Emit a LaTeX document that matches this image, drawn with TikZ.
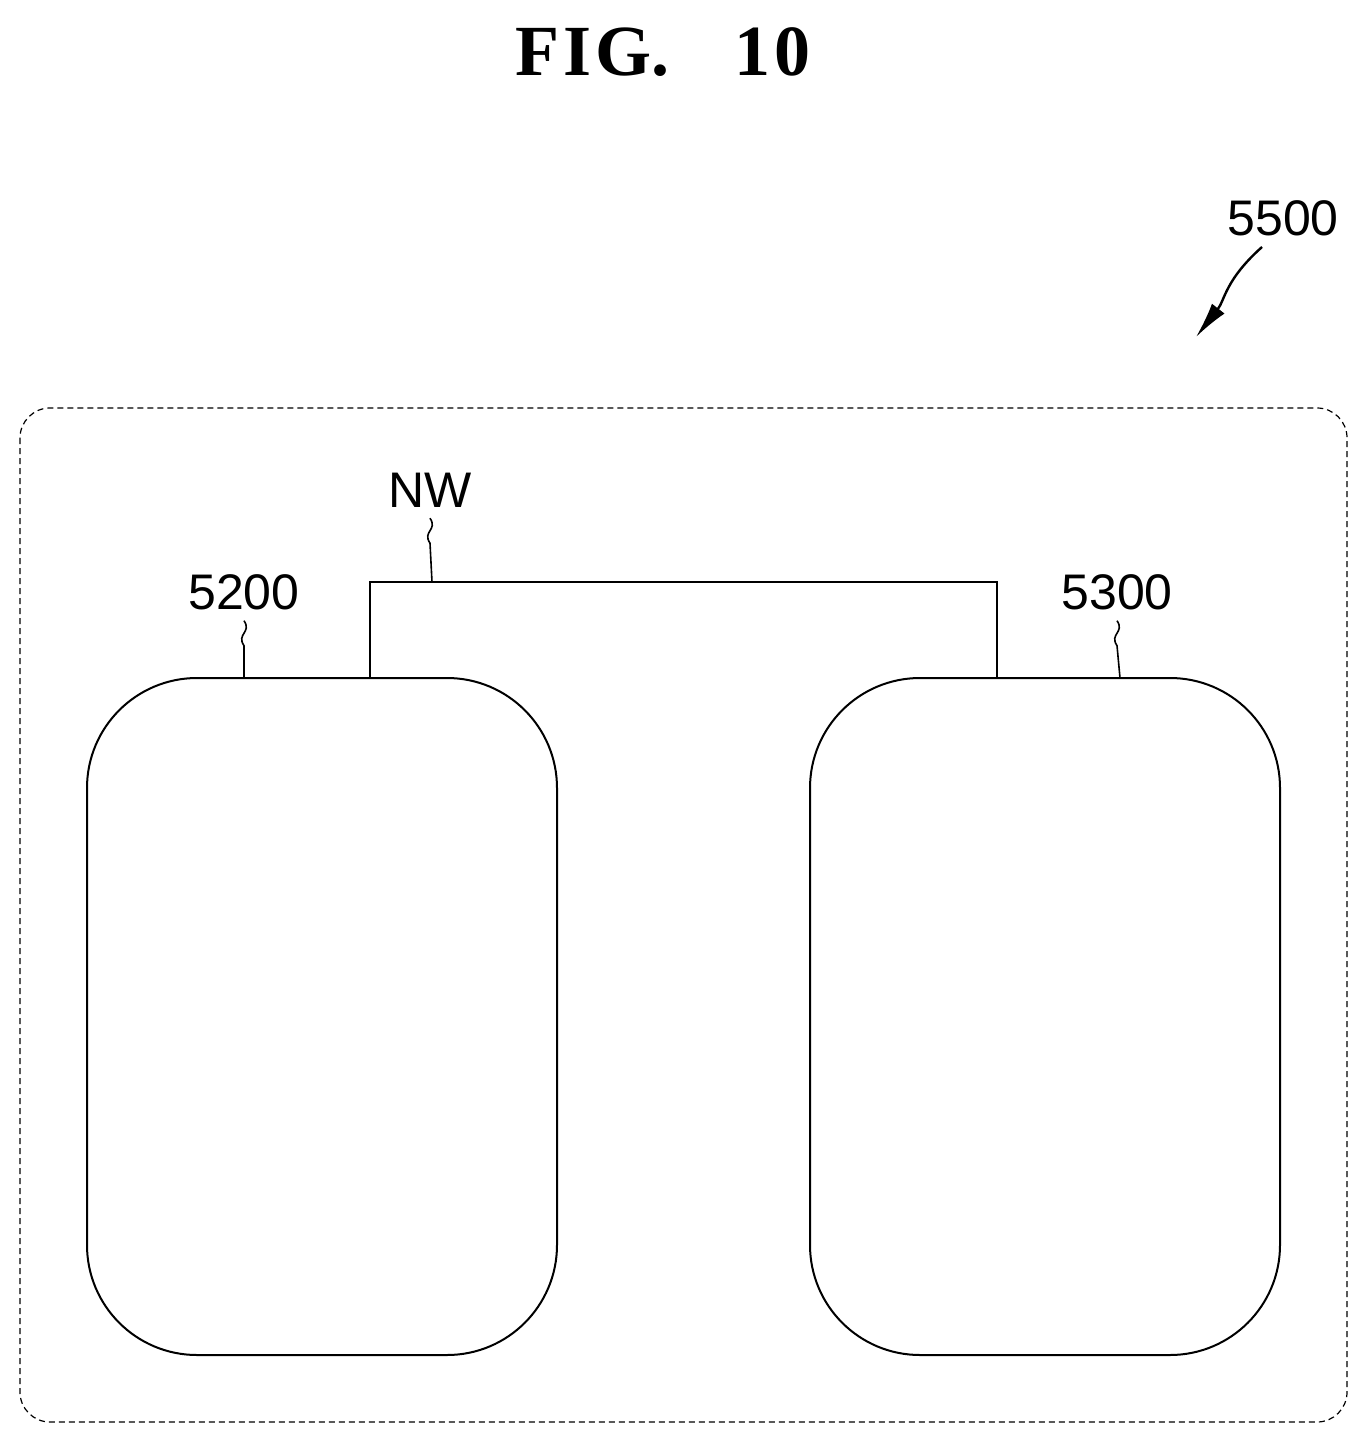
\documentclass[tikz,border=0pt]{standalone}
\usepackage{fontspec}
\setmainfont{Liberation Sans}
\newfontfamily\titlefont{Liberation Serif}
\usetikzlibrary{arrows.meta}
\begin{document}
\begin{tikzpicture}[x=0.5pt, y=-0.5pt, line width=1pt,
	styleLabel/.style={font=\fontsize{25}{30}\selectfont, inner sep=0pt},
	styleUnit/.style={draw, rounded corners=55pt},
	styleLeader/.style={line width=0.8pt}]

	\useasboundingbox (0,0) rectangle (1367,1443);

	%タイトル
	\node[font=\titlefont\bfseries\fontsize{36}{40}\selectfont] (title) at (663,52)
		{F\kern0.06em I\kern0.06em G.\hspace{0.9em}1\kern0.06em 0};

	%外枠
	\draw[dashed, dash pattern=on 3pt off 2pt, line width=0.6pt, rounded corners=15pt]
		(20,408) rectangle (1347,1422);
	\node[styleLabel] (l5500) at (1283,218) {5500};
	\coordinate (a5500s) at (1262,247);
	\coordinate (a5500e) at (1196,337);
	\draw[-{Latex[length=18pt,width=8pt]}, line width=1.2pt]
		(a5500s) .. controls (1225,280) and (1225,300) .. (a5500e);

	%ブロック
	\foreach \blockName/\xpos in {A/87, B/810} {
		\draw[styleUnit] (\xpos,678) rectangle ++(470,677)
			coordinate (block\blockName);
	}

	%ネットワーク
	\coordinate (nwA) at (370,678);
	\coordinate (nwB) at (997,678);
	\draw (nwA) -- (370,582) -- (997,582) -- (nwB);

	%ラベル
	\node[styleLabel] (lNW) at (430,490) {NW};
	\node[styleLabel] (l5200) at (244,592) {5200};
	\node[styleLabel] (l5300) at (1117,592) {5300};
	\foreach \labelName/\xe/\ye in {NW/432/582, 5200/244/678, 5300/1120/678} {
		\draw[styleLeader] (l\labelName.south) ++(0,10)
			.. controls ++(8,12) and ++(-8,-12) .. ++(0,25)
			-- (\xe,\ye);
	}
\end{tikzpicture}
\end{document}
